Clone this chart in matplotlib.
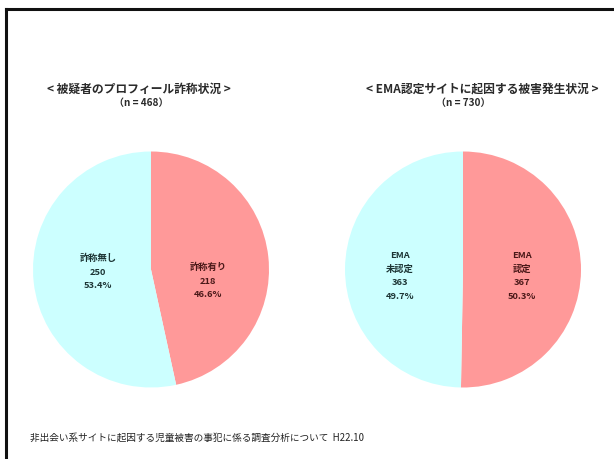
import matplotlib.pyplot as plt
from matplotlib.lines import Line2D

plt.rcParams['font.family'] = ['Noto Sans CJK JP', 'DejaVu Sans']

W, H = 614, 459

# left chart: suspect profile misrepresentation
left_title = '< 被疑者のプロフィール詐称状況 >'
left_n = '（n = 468）'
left_names = ['詐称有り', '詐称無し']
left_counts = [218, 250]
left_pcts = ['46.6%', '53.4%']

# right chart: damage by EMA certified site
right_title = '< EMA認定サイトに起因する被害発生状況 >'
right_n = '（n = 730）'
right_names = ['EMA\n認定', 'EMA\n未認定']
right_counts = [367, 363]
right_pcts = ['50.3%', '49.7%']

colors = ['#FF9999', '#CCFFFF']
text_colors = ['#4a1818', '#1c3434']

footer = '非出会い系サイトに起因する児童被害の事犯に係る調査分析について  H22.10'

fig = plt.figure(figsize=(W / 100, H / 100), dpi=100)


def px(x, y):
    return x / W, 1 - y / H


def draw_pie(cx, cy, r, counts):
    ax = fig.add_axes([(cx - r) / W, 1 - (cy + r) / H, 2 * r / W, 2 * r / H])
    ax.pie(counts, colors=colors, startangle=90, counterclock=False,
           radius=1, wedgeprops=dict(linewidth=0))
    ax.set_xlim(-1, 1)
    ax.set_ylim(-1, 1)
    ax.set_aspect('auto')
    ax.axis('off')
    return ax


draw_pie(151, 269.5, 118, left_counts)
draw_pie(463, 269.5, 118, right_counts)

# slice labels
lab = dict(ha='center', va='center', fontsize=6.7, fontweight='bold',
           linespacing=1.65)
fig.text(*px(208, 281), f'{left_names[0]}\n{left_counts[0]}\n{left_pcts[0]}',
         color=text_colors[0], **lab)
fig.text(*px(98, 272), f'{left_names[1]}\n{left_counts[1]}\n{left_pcts[1]}',
         color=text_colors[1], **lab)
fig.text(*px(522, 276), f'{right_names[0]}\n{right_counts[0]}\n{right_pcts[0]}',
         color=text_colors[0], **lab)
fig.text(*px(400, 276), f'{right_names[1]}\n{right_counts[1]}\n{right_pcts[1]}',
         color=text_colors[1], **lab)

# titles
fig.text(*px(139, 89), left_title, ha='center', va='center',
         fontsize=8.5, fontweight='bold', color='#2a2a2a')
fig.text(*px(141, 103), left_n, ha='center', va='center',
         fontsize=7.2, fontweight='bold', color='#2a2a2a')
fig.text(*px(482, 89), right_title, ha='center', va='center',
         fontsize=8.5, fontweight='bold', color='#2a2a2a')
fig.text(*px(463, 103), right_n, ha='center', va='center',
         fontsize=7.2, fontweight='bold', color='#2a2a2a')

fig.text(*px(30, 438), footer, ha='left', va='center', fontsize=6.95,
         color='#222222')

# frame lines at top and left
fig.add_artist(Line2D([6 / W, 1], [1 - 9 / H, 1 - 9 / H], color='#111111',
                      linewidth=2.2, transform=fig.transFigure))
fig.add_artist(Line2D([6 / W, 6 / W], [1 - 9 / H, 0], color='#111111',
                      linewidth=2.2, transform=fig.transFigure))

fig.savefig('out.png', dpi=100)
